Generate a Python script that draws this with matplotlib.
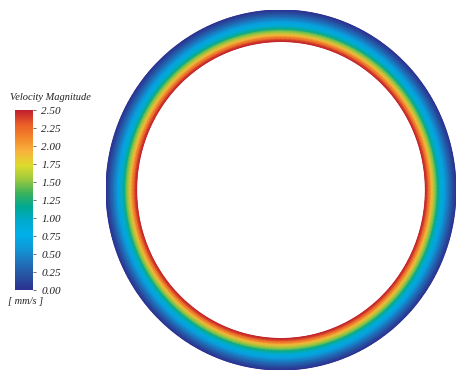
import numpy as np
import matplotlib
matplotlib.use("Agg")
import matplotlib.pyplot as plt
from matplotlib.colors import LinearSegmentedColormap
from matplotlib.cm import ScalarMappable
from matplotlib.colors import Normalize

# radial velocity profile across the annular gap (0 = inner wall, 1 = outer wall)
gap_fraction = [0.0, 0.1, 0.2, 0.3, 0.4, 0.5, 0.6, 0.7, 0.8, 0.9, 1.0]
velocity = [2.50, 2.25, 1.90, 1.55, 1.20, 0.90, 0.68, 0.48, 0.32, 0.16, 0.00]

inner_radius = 0.825
outer_radius = 1.0

tick_values = [0.00, 0.25, 0.50, 0.75, 1.00, 1.25, 1.50, 1.75, 2.00, 2.25, 2.50]
v_min, v_max = 0.0, 2.5

# rainbow map in the style of the CFD post-processor
cmap_colors = ["#2b3190", "#2852a2", "#1f74bc", "#0f98d8", "#00b0ea", "#00aacc",
               "#00a993", "#3bb25a", "#9cc83e", "#dcdb2c", "#f8b33c", "#f3882a",
               "#ea5c28", "#c01f2c"]
cmap = LinearSegmentedColormap.from_list("fluent_rainbow", cmap_colors)

serif = ["Liberation Serif", "DejaVu Serif"]

fig = plt.figure(figsize=(4.6, 3.7), dpi=100)

# annulus contour
ax = fig.add_axes([106 / 460, 0.0, 350 / 460, 360 / 370])
theta = np.linspace(0, 2 * np.pi, 721)
frac = np.array(gap_fraction)
radius = inner_radius + frac * (outer_radius - inner_radius)
T, R = np.meshgrid(theta, radius, indexing="ij")
X = R * np.cos(T)
Y = R * np.sin(T)
V = np.tile(np.array(velocity), (len(theta), 1))
ax.pcolormesh(X, Y, V, shading="gouraud", cmap=cmap, vmin=v_min, vmax=v_max,
              rasterized=True)
ax.set_xlim(-1, 1)
ax.set_ylim(-1, 1)
ax.axis("off")

# colour legend
cax = fig.add_axes([15 / 460, 80 / 370, 18 / 460, 180 / 370])
sm = ScalarMappable(norm=Normalize(v_min, v_max), cmap=cmap)
cb = fig.colorbar(sm, cax=cax, ticks=tick_values)
cb.outline.set_visible(False)
cb.ax.set_yticklabels([f"{t:.2f}" for t in tick_values],
                      family=serif, style="italic", fontsize=8, color="#222222")
cb.ax.tick_params(length=2, width=0.6, color="#555555", pad=4)

fig.text(50 / 460, 1 - 98 / 370, "Velocity Magnitude", family=serif,
         style="italic", fontsize=7.5, ha="center", va="center", color="#222222")
fig.text(8 / 460, 1 - 302 / 370, "[ mm/s ]", family=serif,
         style="italic", fontsize=7.5, ha="left", va="center", color="#222222")

fig.savefig("out.png", dpi=100, facecolor="white")
